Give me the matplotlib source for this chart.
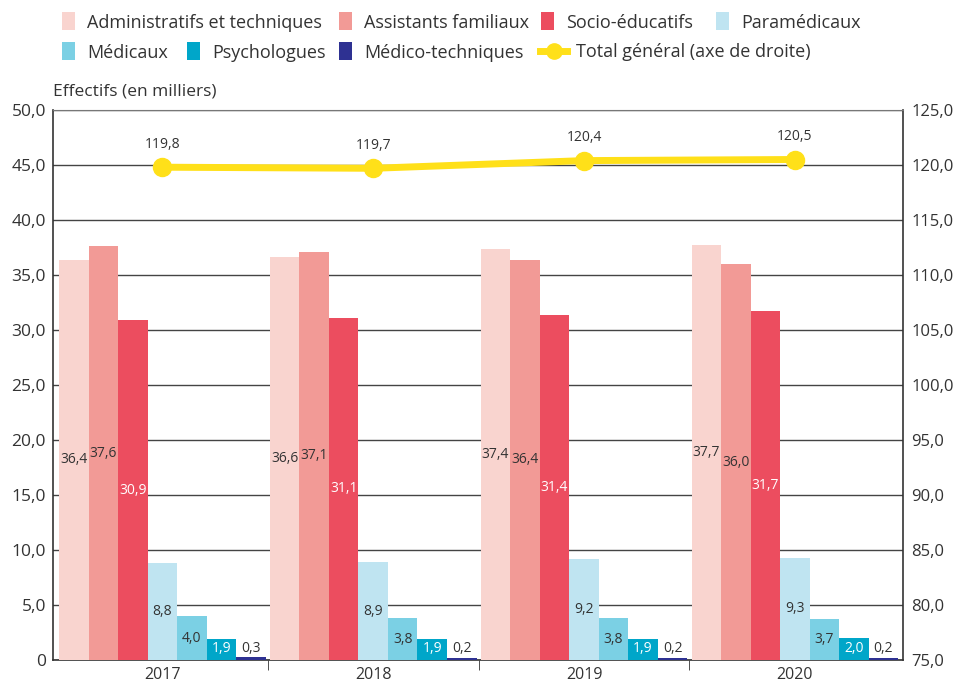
import matplotlib
matplotlib.use("Agg")
import matplotlib.pyplot as plt
import numpy as np
from matplotlib.lines import Line2D
from matplotlib.patches import Patch

plt.rcParams['font.family'] = ['Open Sans', 'DejaVu Sans']

years = ["2017", "2018", "2019", "2020"]
series_names = ["Administratifs et techniques", "Assistants familiaux", "Socio-éducatifs",
                "Paramédicaux", "Médicaux", "Psychologues", "Médico-techniques"]
admin = [36.4, 36.6, 37.4, 37.7]
assistants = [37.6, 37.1, 36.4, 36.0]
socio = [30.9, 31.1, 31.4, 31.7]
paramed = [8.8, 8.9, 9.2, 9.3]
medicaux = [4.0, 3.8, 3.8, 3.7]
psycho = [1.9, 1.9, 1.9, 2.0]
medtech = [0.3, 0.2, 0.2, 0.2]
total = [119.8, 119.7, 120.4, 120.5]
total_name = "Total général (axe de droite)"

series = [admin, assistants, socio, paramed, medicaux, psycho, medtech]
colors = ["#F9D4CF", "#F29A96", "#EC4D5F", "#BFE4F1", "#7BD0E4", "#00A6C9", "#2E3192"]
label_colors = ["#333333", "#333333", "white", "#333333", "#333333", "white", "#333333"]
yellow = "#FFE019"
txt = "#333333"

W, H = 956, 686
fig = plt.figure(figsize=(W / 100, H / 100), dpi=100)
ax = fig.add_axes([53 / W, 26 / H, 850 / W, 550 / H])
ax2 = ax.twinx()

x = np.arange(len(years))
n = len(series)
w = 0.14
for i, (vals, c, lc) in enumerate(zip(series, colors, label_colors)):
    pos = x + (i - (n - 1) / 2) * w
    bars = ax.bar(pos, vals, width=w, color=c, zorder=3)
    for b, v in zip(bars, vals):
        ax.text(b.get_x() + b.get_width() / 2, max(v / 2, 1.0), f"{v:.1f}".replace(".", ","),
                ha="center", va="center", fontsize=10, color=lc, zorder=5)

ax.set_xlim(-0.519, 3.513)
ax.set_ylim(0, 50)
yt = np.arange(0, 50.1, 5)
ax.set_yticks(yt)
ax.set_yticklabels(["0" if v == 0 else f"{v:.1f}".replace(".", ",") for v in yt])
ax.set_xticks(x)
ax.set_xticklabels(years)
ax.set_xticks(np.arange(0.5, len(years) - 1), minor=True)
ax.tick_params(axis="x", which="major", length=0, labelsize=11.5, colors=txt, pad=5)
ax.tick_params(axis="x", which="minor", length=7, color=txt, direction="out")
ax.tick_params(axis="y", length=0, labelsize=12.5, colors=txt, pad=5)
ax.grid(axis="y", color="#444444", linewidth=1, zorder=0)
for s in ["left", "right", "bottom"]:
    ax.spines[s].set_color(txt)
    ax.spines[s].set_linewidth(1.2)
ax.spines["top"].set_color("#777777")

ax2.set_ylim(75, 125)
yt2 = np.arange(75, 125.1, 5)
ax2.set_yticks(yt2)
ax2.set_yticklabels([f"{v:.1f}".replace(".", ",") for v in yt2])
ax2.tick_params(axis="y", length=0, labelsize=12, colors=txt, pad=6)
for s in ["left", "right", "bottom", "top"]:
    ax2.spines[s].set_visible(False)
ax2.plot(x, total, color=yellow, linewidth=5, marker="o", markersize=13, zorder=6,
         solid_capstyle="round")
for xi, v in zip(x, total):
    ax2.text(xi, v + 1.4, f"{v:.1f}".replace(".", ","), ha="center", va="bottom",
             fontsize=10, color=txt)

fig.text(53 / W, 1 - 99 / H, "Effectifs (en milliers)", fontsize=12.5, color=txt, ha="left", va="bottom")

# legend items placed individually
leg_items = [
    (Patch(facecolor=colors[0]), series_names[0], 62, 22),
    (Patch(facecolor=colors[1]), series_names[1], 339, 22),
    (Patch(facecolor=colors[2]), series_names[2], 541, 22),
    (Patch(facecolor=colors[3]), series_names[3], 716, 22),
    (Patch(facecolor=colors[4]), series_names[4], 62, 52),
    (Patch(facecolor=colors[5]), series_names[5], 187, 52),
    (Patch(facecolor=colors[6]), series_names[6], 339, 52),
]
for h, lab, px, py in leg_items:
    fig.legend([h], [lab], loc="center left", bbox_to_anchor=(px / W, 1 - py / H),
               frameon=False, fontsize=13, handlelength=0.7, handleheight=1.15,
               handletextpad=0.7, borderaxespad=0, borderpad=0, labelcolor=txt)
fig.legend([Line2D([0], [0], color=yellow, linewidth=5, marker="o", markersize=11)], [total_name],
           loc="center left", bbox_to_anchor=(540 / W, 1 - 52 / H), frameon=False, fontsize=13,
           handlelength=1.5, handletextpad=0.5, borderaxespad=0, borderpad=0, labelcolor=txt)

fig.savefig("out.png", dpi=100)
